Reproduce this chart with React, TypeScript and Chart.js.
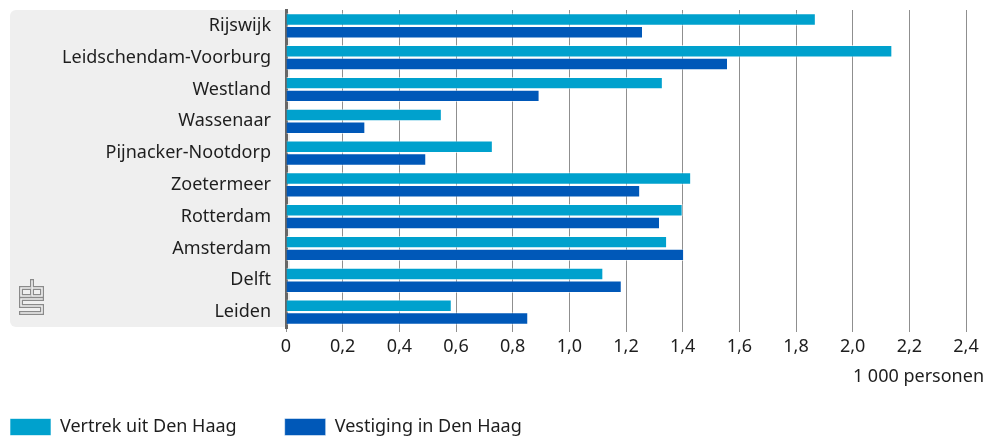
import React, { useEffect, useRef } from 'react';
import { Chart, registerables } from 'chart.js';

Chart.register(...registerables);

const categories = [
  'Rijswijk',
  'Leidschendam-Voorburg',
  'Westland',
  'Wassenaar',
  'Pijnacker-Nootdorp',
  'Zoetermeer',
  'Rotterdam',
  'Amsterdam',
  'Delft',
  'Leiden',
];
const vertrekValues = [1.87, 2.14, 1.33, 0.55, 0.73, 1.43, 1.4, 1.345, 1.12, 0.585];
const vestigingValues = [1.26, 1.56, 0.895, 0.28, 0.495, 1.25, 1.32, 1.405, 1.185, 0.855];
const seriesNames = ['Vertrek uit Den Haag', 'Vestiging in Den Haag'];
const seriesColors = ['#00a1cd', '#0058b8'];
const xMax = 2.4;
const xStep = 0.2;
const unitLabel = '1 000 personen';

const FONT = '"Noto Sans", sans-serif';
const TEXT = '#1e1e1e';
const PANEL = '#efefef';

const decorPlugin = {
  id: 'decor',
  afterLayout(chart: any) {
    const lg = chart.legend;
    if (lg) {
      const p = lg.options.labels.padding;
      lg.left = 10 - p;
      lg.right = chart.width;
      lg.width = lg.right - lg.left;
      lg.top = 418 - p;
      lg.bottom = chart.height;
      lg.height = lg.bottom - lg.top;
    }
  },
  beforeDraw(chart: any) {
    const { ctx, chartArea } = chart;
    ctx.save();
    // grey label panel
    ctx.fillStyle = PANEL;
    ctx.beginPath();
    const x0 = 10;
    const y0 = chartArea.top;
    const w = chartArea.left - x0;
    const h = chartArea.bottom - 1 - y0;
    ctx.roundRect(x0, y0, w + 4, h, 6);
    ctx.fill();
    // cbs logo
    const ox = 20;
    const oy = chartArea.bottom - 47;
    const paths: number[][][] = [
      [[10, 7], [1, 7], [1, 15], [10, 15]],
      [[12, 0], [12, 15], [22, 15], [22, 7], [12, 7]],
      [[22, 18], [1, 18], [1, 25], [22, 25], [22, 32], [1, 32]],
    ];
    const strokeAll = (lw: number, col: string) => {
      ctx.lineWidth = lw;
      ctx.strokeStyle = col;
      ctx.lineJoin = 'miter';
      ctx.lineCap = 'square';
      for (const p of paths) {
        ctx.beginPath();
        p.forEach(([px, py], i) => {
          if (i === 0) ctx.moveTo(ox + px, oy + py);
          else ctx.lineTo(ox + px, oy + py);
        });
        ctx.stroke();
      }
    };
    strokeAll(4, '#8a8a8a');
    strokeAll(1.6, PANEL);
    ctx.restore();
  },
  afterDraw(chart: any) {
    const { ctx } = chart;
    ctx.save();
    ctx.font = `18px ${FONT}`;
    ctx.fillStyle = TEXT;
    ctx.textAlign = 'right';
    ctx.textBaseline = 'middle';
    ctx.fillText(unitLabel, 984, 377);
    ctx.restore();
  },
};

export default function App() {
  const canvasRef = useRef<HTMLCanvasElement | null>(null);

  useEffect(() => {
    document.body.style.margin = '0';
    const canvas = canvasRef.current;
    if (!canvas) return;
    const chart = new Chart(canvas, {
      type: 'bar',
      data: {
        labels: categories,
        datasets: [
          {
            label: seriesNames[0],
            data: vertrekValues,
            backgroundColor: seriesColors[0],
            borderColor: 'rgba(255,255,255,0.6)',
            borderWidth: 1,
            categoryPercentage: 0.8,
            barPercentage: 0.98,
          },
          {
            label: seriesNames[1],
            data: vestigingValues,
            backgroundColor: seriesColors[1],
            borderColor: 'rgba(255,255,255,0.5)',
            borderWidth: 1,
            categoryPercentage: 0.8,
            barPercentage: 0.98,
          },
        ],
      },
      options: {
        indexAxis: 'y',
        animation: false,
        responsive: false,
        maintainAspectRatio: false,
        layout: { padding: { top: 10, left: 0, right: 27, bottom: 0 } },
        plugins: {
          legend: {
            display: true,
            position: 'bottom',
            align: 'start',
            maxHeight: 40,
            labels: {
              boxWidth: 41,
              boxHeight: 17,
              padding: 48,
              color: TEXT,
              font: { family: FONT, size: 18 },
            },
          },
          tooltip: { enabled: false },
        },
        scales: {
          x: {
            min: 0,
            max: xMax,
            afterFit(scale: any) {
              scale.height = 69;
            },
            ticks: {
              stepSize: xStep,
              color: TEXT,
              padding: 4,
              font: { family: FONT, size: 18 },
              callback: (v: any) => (Number(v) === 0 ? '0' : Number(v).toFixed(1).replace('.', ',')),
            },
            grid: { color: '#8f8f8f', lineWidth: 1, tickLength: 4 },
            border: { display: false },
          },
          y: {
            afterFit(scale: any) {
              scale.width = 286;
              scale.paddingTop = 0;
              scale.paddingBottom = 0;
            },
            ticks: {
              color: TEXT,
              padding: 7,
              font: { family: FONT, size: 18 },
            },
            grid: { display: false },
            border: { display: true, color: '#666666', width: 3 },
          },
        },
      },
      plugins: [decorPlugin],
    } as any);
    return () => chart.destroy();
  }, []);

  return (
    <div style={{ width: 993, height: 437 }}>
      <canvas ref={canvasRef} width={993} height={437} style={{ display: 'block' }} />
    </div>
  );
}
